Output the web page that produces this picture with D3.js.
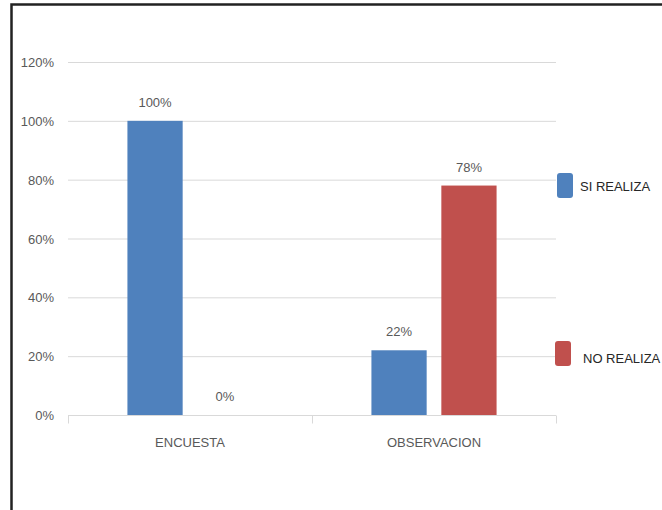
<!DOCTYPE html>
<head>
    <style>
    body { margin: 0; background: #fff; }
    svg text {
      font-family: "Liberation Sans", Arial, sans-serif;
      fill: #595959;
      font-size: 13px;
    }
    .grid line { stroke: #d9d9d9; stroke-width: 1; }
    .axis path, .axis line { stroke: #d9d9d9; }
    .legend text { fill: #262626; font-size: 13px; }
    </style>
    <script src="https://d3js.org/d3.v7.min.js"></script>
</head>
<body>
    <svg width="662" height="510"></svg>
    <script>

    var categories = ["ENCUESTA", "OBSERVACION"];
    var series = ["SI REALIZA", "NO REALIZA"];
    var siRealiza = [100, 22];
    var noRealiza = [0, 78];
    var yTicks = [0, 20, 40, 60, 80, 100, 120];
    var colors = ["#4f81bd", "#c0504d"];

    var values = [siRealiza, noRealiza];
    var rows = categories.map(function(c, i) {
      return { cat: c, vals: series.map(function(s, j) { return { s: s, j: j, v: values[j][i] }; }) };
    });

    var svg = d3.select("svg");

    // chart frame
    svg.append("path")
        .attr("d", "M11.5,510 L11.5,4.5 L662,4.5")
        .attr("fill", "none")
        .attr("stroke", "#222")
        .attr("stroke-width", 2.5);

    var x0 = d3.scaleBand().domain(categories).range([68, 556]);
    var x1 = d3.scaleBand().domain(series).range([0, x0.bandwidth()])
        .paddingInner(0.21).paddingOuter(0.85);
    var y = d3.scaleLinear().domain([0, 120]).range([415, 62]);

    // gridlines
    svg.append("g").attr("class", "grid")
      .selectAll("line").data(yTicks.filter(function(d) { return d > 0; }))
      .enter().append("line")
        .attr("x1", 68).attr("x2", 556)
        .attr("y1", function(d) { return y(d) + 0.5; })
        .attr("y2", function(d) { return y(d) + 0.5; });

    // y labels
    svg.append("g")
      .selectAll("text").data(yTicks)
      .enter().append("text")
        .attr("x", 54)
        .attr("y", function(d) { return y(d) + 5; })
        .attr("text-anchor", "end")
        .text(function(d) { return d + "%"; });

    // bars
    var groups = svg.append("g")
      .selectAll("g").data(rows)
      .enter().append("g")
        .attr("transform", function(d) { return "translate(" + x0(d.cat) + ",0)"; });

    groups.selectAll("rect").data(function(d) { return d.vals; })
      .enter().append("rect")
        .attr("x", function(d) { return x1(d.s); })
        .attr("width", x1.bandwidth())
        .attr("y", function(d) { return y(d.v); })
        .attr("height", function(d) { return y(0) - y(d.v); })
        .attr("fill", function(d) { return colors[d.j]; });

    groups.selectAll("text").data(function(d) { return d.vals; })
      .enter().append("text")
        .attr("x", function(d) { return x1(d.s) + x1.bandwidth() / 2; })
        .attr("y", function(d) { return y(d.v) - 14; })
        .attr("text-anchor", "middle")
        .text(function(d) { return d.v + "%"; });

    // x axis
    var xAxis = svg.append("g").attr("class", "axis")
        .attr("transform", "translate(0," + (y(0) + 0.5) + ")")
        .call(d3.axisBottom(x0).tickSize(0).tickPadding(22));
    xAxis.select(".domain").remove();
    xAxis.append("line").attr("x1", 68).attr("x2", 556);
    xAxis.selectAll(".sep").data([68, 312, 556]).enter().append("line")
        .attr("class", "sep")
        .attr("x1", function(d) { return d + 0.5; }).attr("x2", function(d) { return d + 0.5; })
        .attr("y1", 0).attr("y2", 8);
    xAxis.selectAll(".tick text").attr("font-size", null).attr("fill", null)
        .attr("font-family", null);

    // legend
    var legendY = [173, 341];
    var legend = svg.append("g").attr("class", "legend")
      .selectAll("g").data(series)
      .enter().append("g")
        .attr("transform", function(d, i) { return "translate(" + (i ? 555 : 557) + "," + legendY[i] + ")"; });
    legend.append("rect")
        .attr("width", 16).attr("height", 25).attr("rx", 3)
        .attr("fill", function(d, i) { return colors[i]; });
    legend.append("text")
        .attr("x", function(d, i) { return i ? 28 : 23; })
        .attr("y", function(d, i) { return i ? 22 : 18; })
        .text(function(d) { return d; });

    </script>
</body>
